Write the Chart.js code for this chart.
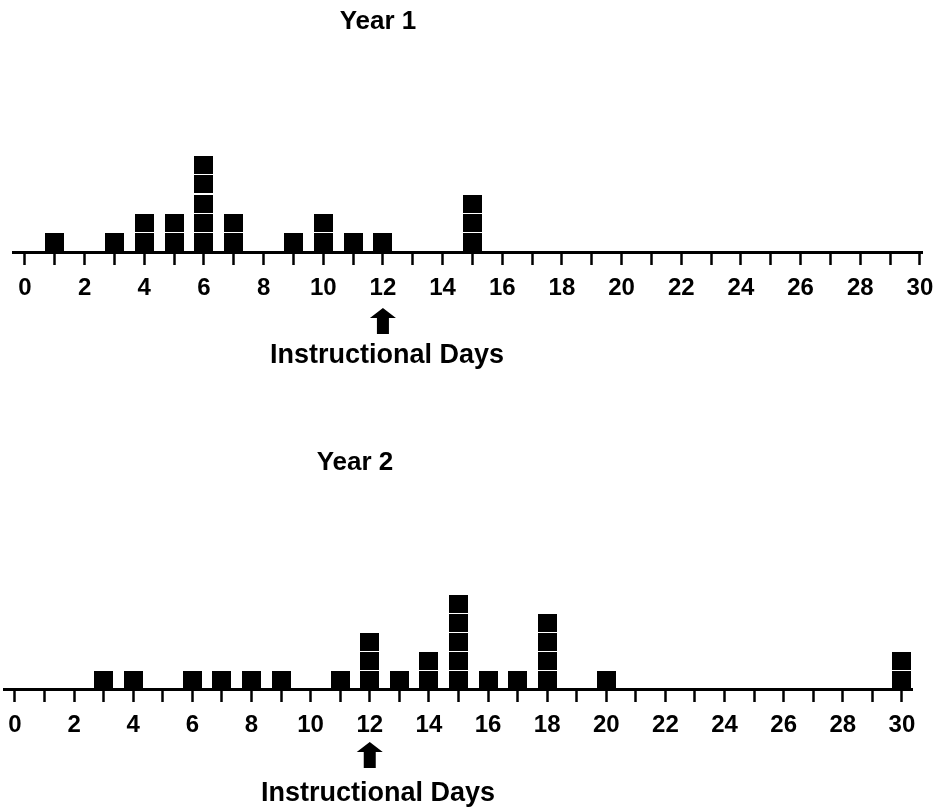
<!DOCTYPE html>
<html lang="en">
<head>
<meta charset="UTF-8">
<title>Instructional Days</title>
<script src="https://cdn.jsdelivr.net/npm/chart.js"></script>
<style>
  body { margin: 0; background: #fff; }
  canvas { position: absolute; left: 0; }
  #year1 { top: 0; }
  #year2 { top: 420px; }
</style>
</head>
<body>
<canvas id="year1" width="934" height="380"></canvas>
<canvas id="year2" width="934" height="389"></canvas>

<script>
// tick positions on the number line (labels shown on even days only)
const TICK_VALUES = [0, 1, 2, 3, 4, 5, 6, 7, 8, 9, 10, 11, 12, 13, 14, 15,
                     16, 17, 18, 19, 20, 21, 22, 23, 24, 25, 26, 27, 28, 29, 30];

// Year 1: day value and how many squares are stacked on it
const YEAR1_DAYS   = [1, 3, 4, 5, 6, 7, 9, 10, 11, 12, 15];
const YEAR1_COUNTS = [1, 1, 2, 2, 5, 2, 1, 2, 1, 1, 3];

// Year 2
const YEAR2_DAYS   = [3, 4, 6, 7, 8, 9, 11, 12, 13, 14, 15, 16, 17, 18, 20, 30];
const YEAR2_COUNTS = [1, 1, 1, 1, 1, 1, 1, 3, 1, 2, 5, 1, 1, 4, 1, 2];

const MARKED_DAY = 12;
const AXIS_NAME = 'Instructional Days';

const FONT = '"Liberation Sans", Arial, Helvetica, sans-serif';

function makeSquare(w, h) {
    const c = document.createElement('canvas');
    c.width = w;
    c.height = h;
    const g = c.getContext('2d');
    g.fillStyle = '#000';
    g.fillRect(0, 0, w, h);
    return c;
}

// one point per stacked square, centred in its unit slot
function stackPoints(days, counts) {
    const pts = [];
    days.forEach((d, i) => {
        for (let k = 0; k < counts[i]; k++) pts.push({ x: d, y: k + 0.5 });
    });
    return pts;
}

// title, arrow under the marked day, and axis name
const decor = {
    id: 'decor',
    afterDraw(chart, args, opts) {
        const ctx = chart.ctx;
        const x = chart.scales.x.getPixelForValue(MARKED_DAY);
        const t = opts.arrowTop;
        ctx.save();
        ctx.fillStyle = '#000';
        ctx.beginPath();
        ctx.moveTo(x, t);
        ctx.lineTo(x + 13, t + 10);
        ctx.lineTo(x + 6, t + 10);
        ctx.lineTo(x + 6, t + 26);
        ctx.lineTo(x - 6, t + 26);
        ctx.lineTo(x - 6, t + 10);
        ctx.lineTo(x - 13, t + 10);
        ctx.closePath();
        ctx.fill();

        ctx.textAlign = 'center';
        ctx.textBaseline = 'middle';
        ctx.font = 'bold 26px ' + FONT;
        ctx.fillText(opts.title, opts.titleX, opts.titleY);
        ctx.font = 'bold 27px ' + FONT;
        ctx.fillText(AXIS_NAME, opts.nameX, opts.nameY);
        ctx.restore();
    }
};

function buildPlot(id, cfg) {
    return new Chart(document.getElementById(id), {
        type: 'scatter',
        data: {
            datasets: [{
                data: stackPoints(cfg.days, cfg.counts),
                pointStyle: makeSquare(19, 18),
                pointRadius: 10,
                clip: false
            }]
        },
        options: {
            responsive: false,
            animation: false,
            events: [],
            layout: { padding: cfg.padding, autoPadding: false },
            plugins: {
                legend: { display: false },
                tooltip: { enabled: false },
                decor: cfg.decor
            },
            scales: {
                x: {
                    type: 'linear',
                    min: cfg.xMin,
                    max: cfg.xMax,
                    afterBuildTicks: s => { s.ticks = TICK_VALUES.map(v => ({ value: v })); },
                    afterFit: s => {
                        s.height = 50;
                        s.paddingLeft = 0;
                        s.paddingRight = 0;
                    },
                    border: { display: true, color: '#000', width: 3 },
                    grid: {
                        drawOnChartArea: false,
                        drawTicks: true,
                        tickLength: 13,
                        tickWidth: 2.5,
                        tickColor: '#000'
                    },
                    ticks: {
                        autoSkip: false,
                        maxRotation: 0,
                        padding: 9,
                        color: '#000',
                        font: { family: FONT, size: 24, weight: 'bold' },
                        callback: v => (v % 2 === 0 ? String(v) : '')
                    }
                },
                y: { display: false, min: 0, max: cfg.yMax }
            }
        },
        plugins: [decor]
    });
}

buildPlot('year1', {
    days: YEAR1_DAYS,
    counts: YEAR1_COUNTS,
    xMin: -0.40, xMax: 30.07, yMax: 6,
    padding: { left: 13, right: 12, top: 136, bottom: 78 },
    decor: { title: 'Year 1', titleX: 378, titleY: 22, arrowTop: 308, nameX: 387, nameY: 356 }
});

buildPlot('year2', {
    days: YEAR2_DAYS,
    counts: YEAR2_COUNTS,
    xMin: -0.37, xMax: 30.34, yMax: 5,
    padding: { left: 4, right: 22, top: 175, bottom: 70 },
    decor: { title: 'Year 2', titleX: 355, titleY: 43, arrowTop: 322, nameX: 378, nameY: 374 }
});
</script>
</body>
</html>
